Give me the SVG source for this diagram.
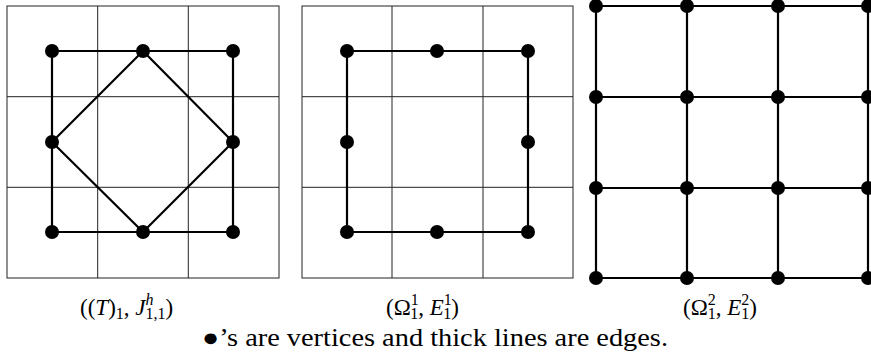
<svg xmlns="http://www.w3.org/2000/svg" width="871" height="363" viewBox="0 0 871 363">
<style>
.grid{fill:none;stroke:#222;stroke-width:1}
.edge{fill:none;stroke:#000;stroke-width:2.2;stroke-linejoin:round}
.v{fill:#000}
.lbl{font-family:"Liberation Serif","DejaVu Serif",serif;font-size:23px;fill:#000}
.cap{font-family:"Liberation Serif","DejaVu Serif",serif;font-size:25px;fill:#000}
.it{font-style:italic}
.s{font-size:16px}
</style>
<rect width="871" height="363" fill="#fff"/>
<g id="panel1">
<g id="grid1" class="grid">
<rect x="7" y="6" width="272" height="272"/>
<line x1="97.7" y1="6" x2="97.7" y2="278"/><line x1="188.3" y1="6" x2="188.3" y2="278"/>
<line x1="7" y1="96.7" x2="279" y2="96.7"/><line x1="7" y1="187.3" x2="279" y2="187.3"/>
</g>
<g id="edges1" class="edge">
<rect x="52" y="51" width="181" height="181"/>
<polygon points="143,51 233,142 143,232 52,142"/>
</g>
<g id="nodes1" class="v">
<circle id="p1v1" cx="52" cy="51" r="7"/><circle id="p1v2" cx="143" cy="51" r="7"/><circle id="p1v3" cx="233" cy="51" r="7"/>
<circle id="p1v4" cx="52" cy="142" r="7"/><circle id="p1v5" cx="233" cy="142" r="7"/>
<circle id="p1v6" cx="52" cy="232" r="7"/><circle id="p1v7" cx="143" cy="232" r="7"/><circle id="p1v8" cx="233" cy="232" r="7"/>
</g>
</g>
<g id="panel2">
<g id="grid2" class="grid">
<rect x="302" y="6" width="271" height="272"/>
<line x1="392" y1="6" x2="392" y2="278"/><line x1="483" y1="6" x2="483" y2="278"/>
<line x1="302" y1="96.7" x2="573" y2="96.7"/><line x1="302" y1="187.3" x2="573" y2="187.3"/>
</g>
<g id="edges2" class="edge">
<rect x="347" y="51" width="181" height="181"/>
</g>
<g id="nodes2" class="v">
<circle id="p2v1" cx="347" cy="51" r="7"/><circle id="p2v2" cx="437" cy="51" r="7"/><circle id="p2v3" cx="528" cy="51" r="7"/>
<circle id="p2v4" cx="347" cy="142" r="7"/><circle id="p2v5" cx="528" cy="142" r="7"/>
<circle id="p2v6" cx="347" cy="232" r="7"/><circle id="p2v7" cx="437" cy="232" r="7"/><circle id="p2v8" cx="528" cy="232" r="7"/>
</g>
</g>
<g id="panel3">
<g id="edges3" class="edge">
<line x1="596" y1="6" x2="868" y2="6"/><line x1="596" y1="97" x2="868" y2="97"/>
<line x1="596" y1="188" x2="868" y2="188"/><line x1="596" y1="278" x2="868" y2="278"/>
<line x1="596" y1="6" x2="596" y2="278"/><line x1="687" y1="6" x2="687" y2="278"/>
<line x1="778" y1="6" x2="778" y2="278"/><line x1="868" y1="6" x2="868" y2="278"/>
</g>
<g id="nodes3" class="v">
<circle cx="596" cy="6" r="7"/><circle cx="687" cy="6" r="7"/><circle cx="778" cy="6" r="7"/><circle cx="868" cy="6" r="7"/>
<circle cx="596" cy="97" r="7"/><circle cx="687" cy="97" r="7"/><circle cx="778" cy="97" r="7"/><circle cx="868" cy="97" r="7"/>
<circle cx="596" cy="188" r="7"/><circle cx="687" cy="188" r="7"/><circle cx="778" cy="188" r="7"/><circle cx="868" cy="188" r="7"/>
<circle cx="596" cy="278" r="7"/><circle cx="687" cy="278" r="7"/><circle cx="778" cy="278" r="7"/><circle cx="868" cy="278" r="7"/>
</g>
</g>
<g id="labels">
<text class="lbl" x="80" y="315">((<tspan class="it">T</tspan>)<tspan class="s" dy="4">1</tspan><tspan dy="-4">, </tspan><tspan class="it">J</tspan><tspan class="it s" dy="-10">h</tspan><tspan class="s" dx="-8" dy="14">1,1</tspan><tspan dy="-4">)</tspan></text>
<text class="lbl" x="386" y="315">(Ω<tspan class="s" dy="-10">1</tspan><tspan class="s" dx="-8" dy="14">1</tspan><tspan dy="-4">, </tspan><tspan class="it">E</tspan><tspan class="s" dy="-10">1</tspan><tspan class="s" dx="-8" dy="14">1</tspan><tspan dy="-4">)</tspan></text>
<text class="lbl" x="683" y="315">(Ω<tspan class="s" dy="-10">2</tspan><tspan class="s" dx="-8" dy="14">1</tspan><tspan dy="-4">, </tspan><tspan class="it">E</tspan><tspan class="s" dy="-10">2</tspan><tspan class="s" dx="-8" dy="14">1</tspan><tspan dy="-4">)</tspan></text>
<text class="cap" x="202" y="346" textLength="466" lengthAdjust="spacingAndGlyphs">●’s are vertices and thick lines are edges.</text>
</g>
</svg>
